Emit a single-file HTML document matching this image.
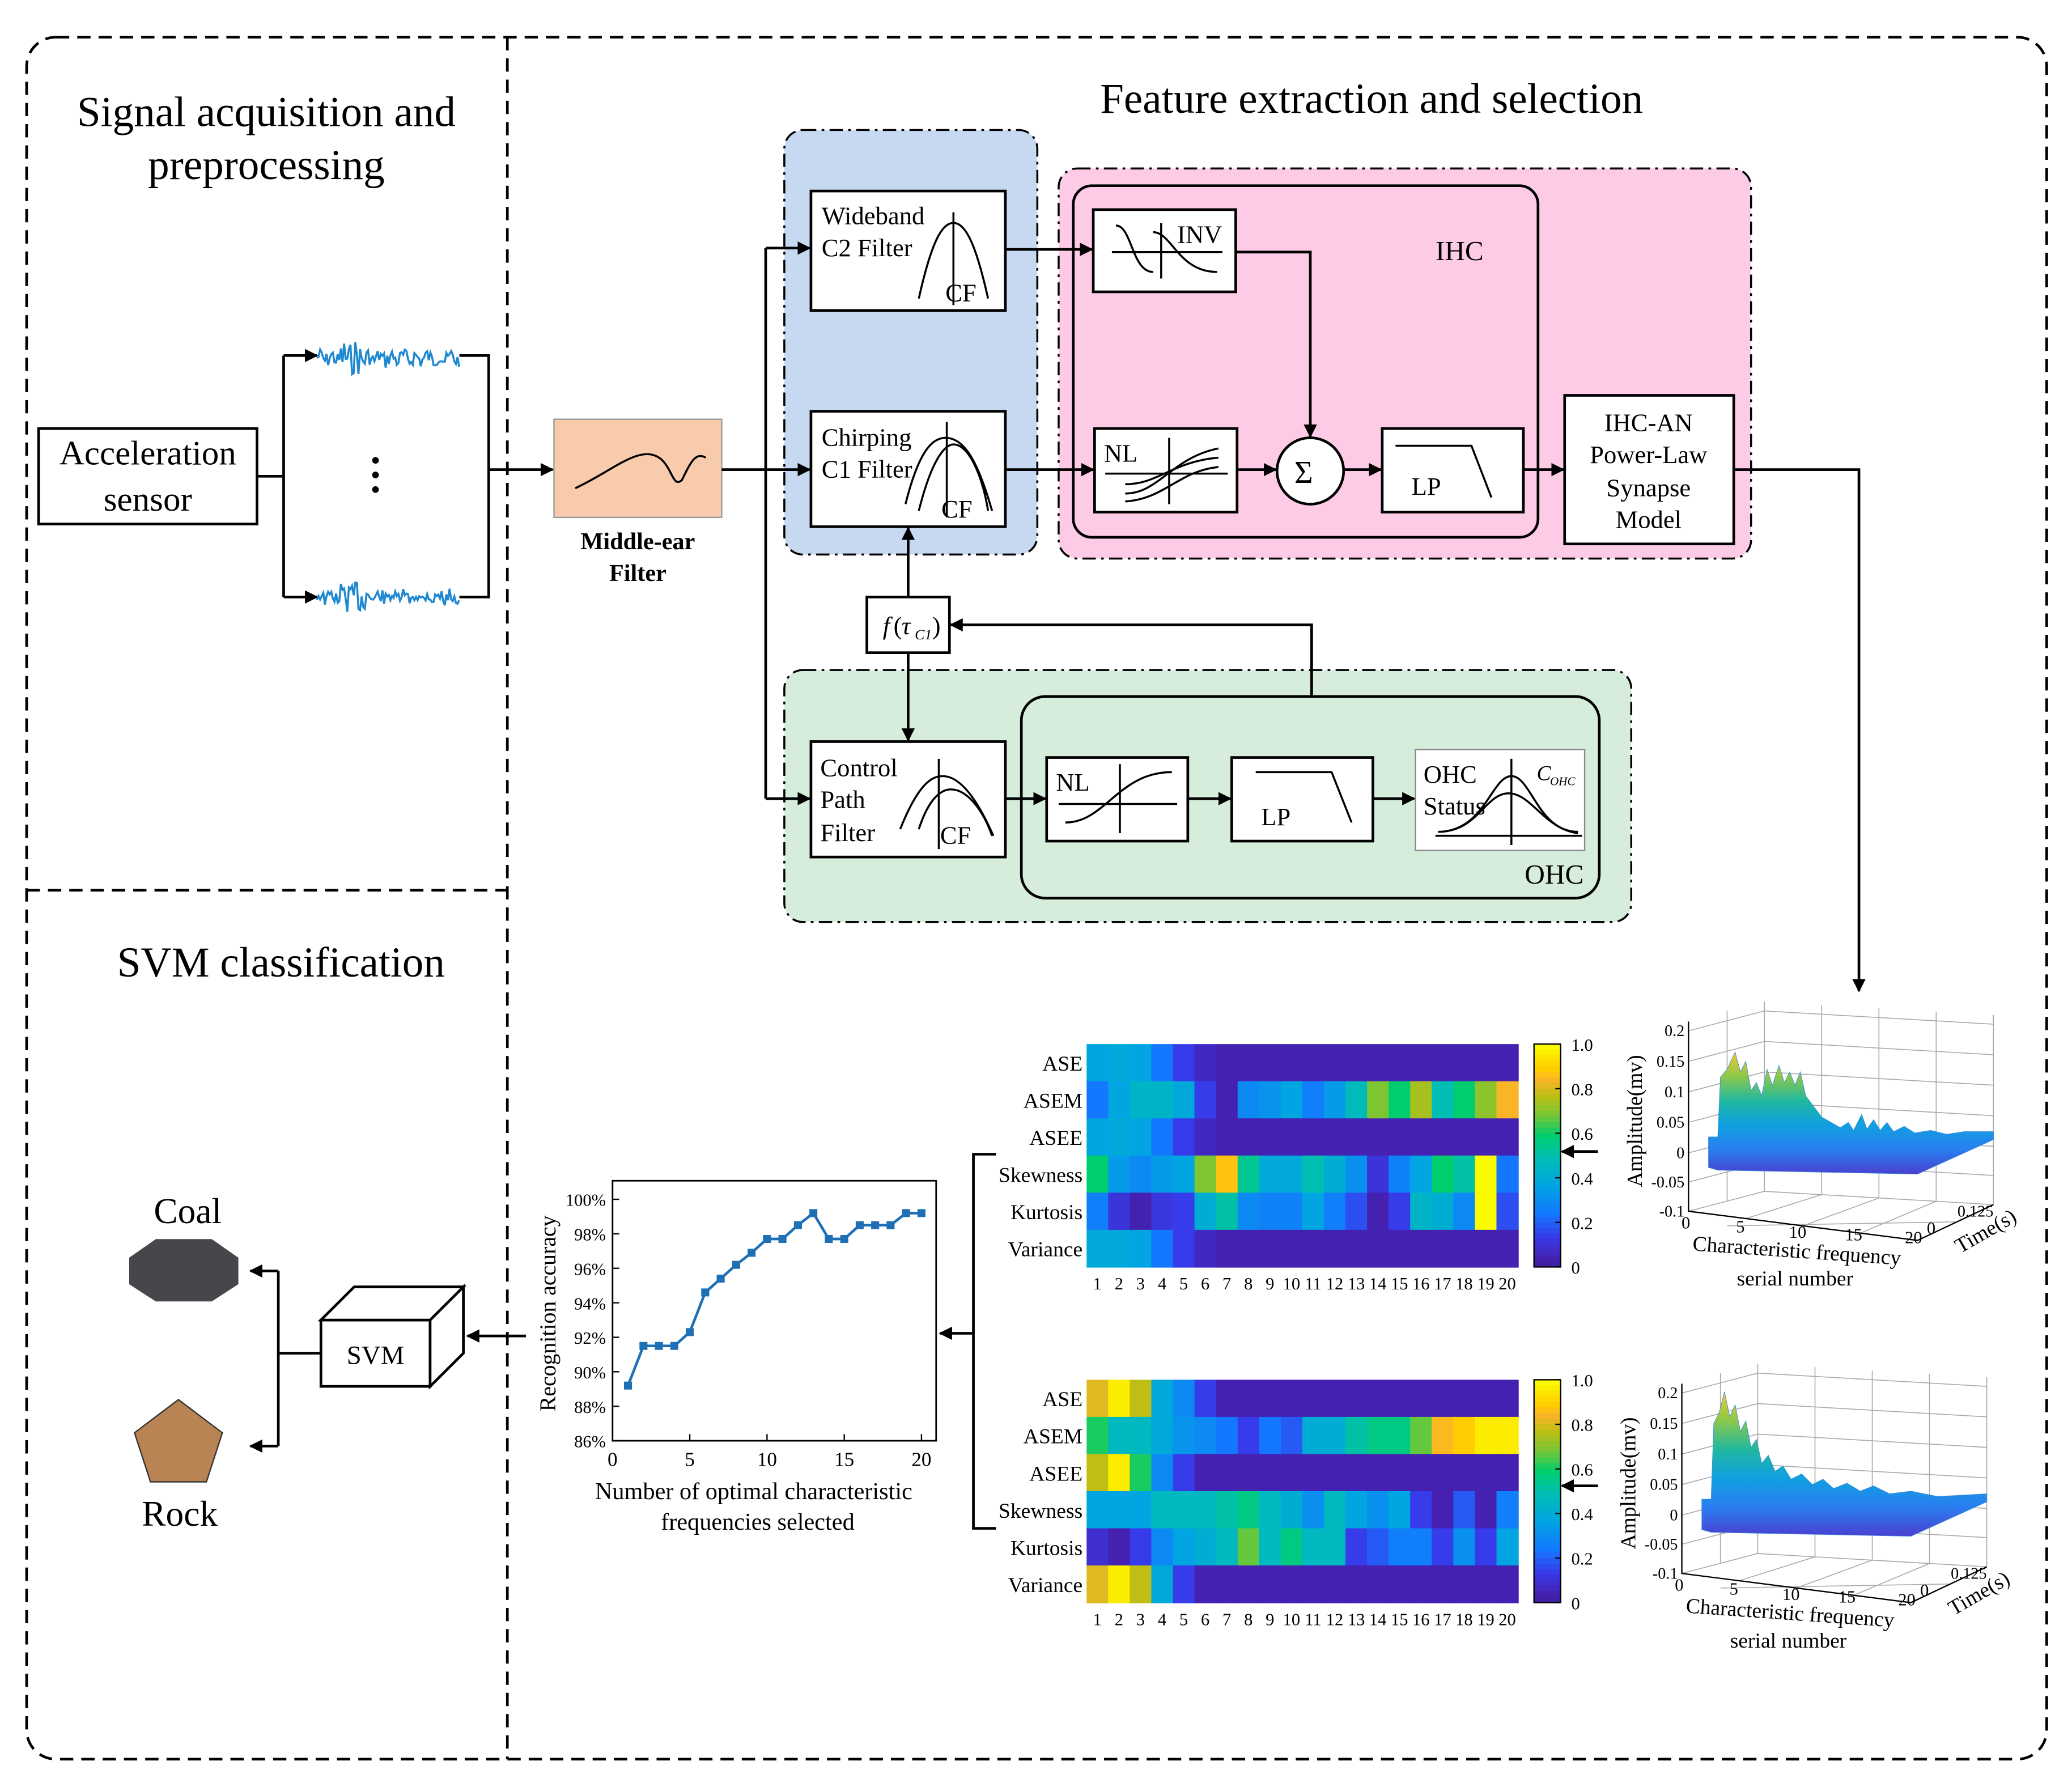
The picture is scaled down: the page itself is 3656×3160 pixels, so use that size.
<!DOCTYPE html>
<html><head><meta charset="utf-8"><style>
html,body{margin:0;padding:0;background:#fff;}
svg{display:block;font-family:"Liberation Serif",serif;}
</style></head><body>
<svg id="s" width="3656" height="3160" viewBox="0 0 1556 1350" preserveAspectRatio="none" xmlns="http://www.w3.org/2000/svg">
<defs>
<marker id="a" markerWidth="10" markerHeight="10" refX="9" refY="5" orient="auto" markerUnits="userSpaceOnUse"><path d="M0,0 L10,5 L0,10 z" fill="#000"/></marker>
<linearGradient id="sg" x1="0" y1="0" x2="0" y2="1"><stop offset="0" stop-color="#f5c82a"/><stop offset="0.2" stop-color="#8cc84a"/><stop offset="0.4" stop-color="#20b8a0"/><stop offset="0.6" stop-color="#10a0e0"/><stop offset="0.8" stop-color="#2a7ef0"/><stop offset="1" stop-color="#4a3fd0"/></linearGradient>
</defs>
<rect width="1556" height="1350" fill="#fff"/>
<rect x="20" y="28" width="1517" height="1298" rx="22" fill="none" stroke="#000" stroke-width="2" stroke-dasharray="10,6"/>
<line x1="381" y1="28" x2="381" y2="1326" stroke="#000" stroke-width="2" stroke-dasharray="10,6"/>
<line x1="20" y1="671" x2="381" y2="671" stroke="#000" stroke-width="2" stroke-dasharray="10,6"/>
<g font-size="32" text-anchor="middle">
<text x="200" y="95">Signal acquisition and</text>
<text x="200" y="135">preprocessing</text>
<text x="1030" y="85">Feature extraction and selection</text>
<text x="211" y="736">SVM classification</text>
</g>
<rect x="29" y="323" width="164" height="72" fill="#fff" stroke="#000" stroke-width="2"/>
<text x="111" y="350" font-size="26" text-anchor="middle">Acceleration</text>
<text x="111" y="385" font-size="26" text-anchor="middle">sensor</text>
<g stroke="#000" stroke-width="2" fill="none">
<path d="M193,359 H213 M213,268 V450"/>
<path d="M213,268 H238" marker-end="url(#a)"/>
<path d="M213,450 H238" marker-end="url(#a)"/>
<path d="M345,268 H367 V450 H345"/>
<path d="M367,354 H415" marker-end="url(#a)"/>
</g>
<g fill="#000"><circle cx="282" cy="347" r="2.5"/><circle cx="282" cy="358" r="2.5"/><circle cx="282" cy="369" r="2.5"/></g>
<polyline id="w1" fill="none" stroke="#1e88d0" stroke-width="1.5"/>
<polyline id="w2" fill="none" stroke="#1e88d0" stroke-width="1.5"/>
<rect x="416" y="316" width="126" height="74" fill="#f9cbad" stroke="#999" stroke-width="1"/>
<path d="M432,368 C460,355 480,335 495,345 C505,352 505,368 512,362 C518,350 522,340 530,345" fill="none" stroke="#000" stroke-width="1.5"/>
<text x="479" y="414" font-size="18" font-weight="bold" text-anchor="middle">Middle-ear</text>
<text x="479" y="438" font-size="18" font-weight="bold" text-anchor="middle">Filter</text>
<rect x="589" y="98" width="190" height="320" rx="14" fill="#c6d9f0" stroke="#000" stroke-width="1.5" stroke-dasharray="10,4,2,4"/>
<rect x="795" y="127" width="520" height="294" rx="14" fill="#fdcbe6" stroke="#000" stroke-width="1.5" stroke-dasharray="10,4,2,4"/>
<rect x="589" y="505" width="636" height="190" rx="14" fill="#d6eddc" stroke="#000" stroke-width="1.5" stroke-dasharray="10,4,2,4"/>
<rect x="806" y="140" width="349" height="265" rx="14" fill="none" stroke="#000" stroke-width="2"/>
<rect x="767" y="525" width="434" height="152" rx="18" fill="none" stroke="#000" stroke-width="2"/>
<g stroke="#000" stroke-width="2" fill="#fff">
<rect x="609" y="144" width="146" height="90"/>
<rect x="609" y="310" width="146" height="87"/>
<rect x="821" y="158" width="107" height="62"/>
<rect x="822" y="323" width="107" height="63"/>
<circle cx="984" cy="355" r="25"/>
<rect x="1038" y="323" width="106" height="63"/>
<rect x="1175" y="298" width="127" height="112"/>
<rect x="651" y="450" width="62" height="42"/>
<rect x="609" y="559" width="146" height="87"/>
<rect x="786" y="571" width="106" height="63"/>
<rect x="925" y="571" width="106" height="63"/>
</g>
<rect x="1063" y="565" width="127" height="76" fill="#fff" stroke="#888" stroke-width="1"/>
<g font-size="19">
<text x="617" y="169">Wideband</text><text x="617" y="193">C2 Filter</text><text x="710" y="227">CF</text>
<text x="617" y="336">Chirping</text><text x="617" y="360">C1 Filter</text><text x="707" y="390">CF</text>
<text x="884" y="183">INV</text><text x="1078" y="196" font-size="21">IHC</text>
<text x="829" y="348">NL</text><text x="1060" y="373">LP</text>
<text x="972" y="364" font-size="24">Σ</text>
<text x="1238" y="325" text-anchor="middle">IHC-AN</text><text x="1238" y="349" text-anchor="middle">Power-Law</text><text x="1238" y="374" text-anchor="middle">Synapse</text><text x="1238" y="398" text-anchor="middle">Model</text>
<text x="663" y="478" font-style="italic">f</text><text x="671" y="478">(</text><text x="677" y="478" font-style="italic">τ</text><text x="687" y="482" font-size="11" font-style="italic">C1</text><text x="700" y="478">)</text>
<text x="616" y="585">Control</text><text x="616" y="609">Path</text><text x="616" y="634">Filter</text><text x="706" y="636">CF</text>
<text x="793" y="596">NL</text><text x="947" y="622">LP</text>
<text x="1069" y="590">OHC</text><text x="1069" y="614">Status</text>
<text x="1154" y="588" font-style="italic" font-size="16">C</text><text x="1164" y="592" font-style="italic" font-size="9">OHC</text>
<text x="1145" y="666" font-size="21">OHC</text>
</g>
<g fill="none" stroke="#000" stroke-width="1.5">
<path d="M690,225 C700,180 708,168 716,168 C724,168 732,180 742,225 M716,160 V230"/>
<path d="M680,380 C690,340 700,330 710,330 C725,330 735,350 745,385 M690,385 C700,345 710,335 716,335 C728,335 738,360 742,385 M711,318 V390"/>
<path d="M676,625 C690,590 700,585 708,585 C722,585 735,605 746,630 M690,625 C698,600 708,595 714,595 C726,595 738,610 745,630 M705,572 V640"/>
<path d="M838,170 C850,170 850,205 866,205 M835,190 H918 M872,168 V210 M866,175 C880,175 885,205 914,205"/>
<path d="M845,372 C870,372 880,345 915,338 M845,365 C870,365 880,348 915,345 M845,378 C875,376 885,355 915,352 M830,357 H922 M878,330 V380"/>
<path d="M1048,336 H1105 L1120,375"/>
<path d="M800,620 C830,620 840,582 880,582 M795,606 H884 M841,576 V628"/>
<path d="M943,582 H1000 L1015,620"/>
<path d="M1080,627 C1115,627 1120,585 1135,585 C1150,585 1155,627 1185,627 M1080,627 C1110,627 1115,598 1133,598 C1150,598 1160,625 1185,628 M1078,630 H1188 M1135,572 V637"/>
</g>
<g stroke="#000" stroke-width="2" fill="none">
<path d="M542,354 H575 M575,187 V602"/>
<path d="M575,187 H608" marker-end="url(#a)"/>
<path d="M575,354 H608" marker-end="url(#a)"/>
<path d="M575,602 H608" marker-end="url(#a)"/>
<path d="M755,188 H820" marker-end="url(#a)"/>
<path d="M928,190 H984 V329" marker-end="url(#a)"/>
<path d="M755,354 H821" marker-end="url(#a)"/>
<path d="M929,354 H958" marker-end="url(#a)"/>
<path d="M1009,354 H1037" marker-end="url(#a)"/>
<path d="M1144,354 H1174" marker-end="url(#a)"/>
<path d="M1302,354 H1396 V747" marker-end="url(#a)"/>
<path d="M682,450 V398" marker-end="url(#a)"/>
<path d="M682,492 V558" marker-end="url(#a)"/>
<path d="M985,525 V471 H714" marker-end="url(#a)"/>
<path d="M755,602 H785" marker-end="url(#a)"/>
<path d="M892,602 H924" marker-end="url(#a)"/>
<path d="M1031,602 H1062" marker-end="url(#a)"/>
<path d="M1200,868 H1173" marker-end="url(#a)"/>
<path d="M1200,1120 H1173" marker-end="url(#a)"/>
<path d="M748,870 H731 V1152 H748"/>
<path d="M731,1005 H706" marker-end="url(#a)"/>
<path d="M395,1007 H351" marker-end="url(#a)"/>
<path d="M241,1020 H209 V958 M209,1020 V1090"/>
<path d="M209,958 H188" marker-end="url(#a)"/>
<path d="M209,1090 H188" marker-end="url(#a)"/>
</g>
<g id="hm"></g>
<g id="lc"></g>
<g stroke="#000" stroke-width="2" fill="#fff">
<rect x="241" y="995" width="82" height="50"/>
<path d="M241,995 L266,970 H348 L323,995 Z M323,995 L348,970 V1020 L323,1045 Z"/>
</g>
<text x="282" y="1028" font-size="20" text-anchor="middle">SVM</text>
<polygon points="117,934 159,934 179,948 179,968 159,981 117,981 97,968 97,948" fill="#47464b"/>
<text x="141" y="922" font-size="27" text-anchor="middle">Coal</text>
<polygon points="134,1055 167,1080 155,1117 113,1117 101,1080" fill="#b98453" stroke="#333" stroke-width="1"/>
<text x="135" y="1150" font-size="27" text-anchor="middle">Rock</text>
<g id="p3"></g>
</svg>
<script>
var NS="http://www.w3.org/2000/svg";
function el(p,t,a,txt){var e=document.createElementNS(NS,t);for(var k in a)e.setAttribute(k,a[k]);if(txt!=null)e.textContent=txt;p.appendChild(e);return e;}
function wave(id,y0,amp,seed){var p=[],r=seed;for(var x=238;x<=345;x+=1.2){r=(r*9301+49297)%233280;var n=(r/233280-0.5);var env=(x>255&&x<275)?2.2:1;p.push(x.toFixed(1)+','+(y0+n*amp*env+Math.sin(x*0.7)*2).toFixed(1));}document.getElementById(id).setAttribute('points',p.join(' '));}
wave('w1',270,12,7);wave('w2',450,10,13);
var st=[[0,[62,30,160]],[0.05,[68,33,176]],[0.15,[55,60,235]],[0.25,[20,120,255]],[0.38,[0,165,225]],[0.5,[0,190,180]],[0.6,[0,205,110]],[0.7,[125,198,50]],[0.78,[190,190,20]],[0.85,[250,180,40]],[0.9,[255,205,0]],[1,[250,250,0]]];
function col(v){v=Math.max(0,Math.min(1,v));for(var i=1;i<st.length;i++)if(v<=st[i][0]){var a=st[i-1],b=st[i],t=(v-a[0])/(b[0]-a[0]);return 'rgb('+a[1].map(function(c,j){return Math.round(c+(b[1][j]-c)*t)}).join(',')+')';}}
var hm=document.getElementById('hm');
var rows=['ASE','ASEM','ASEE','Skewness','Kurtosis','Variance'];
var D1=[
[.38,.4,.38,.25,.15,.08,.05,.05,.05,.05,.05,.05,.05,.05,.05,.05,.05,.05,.05,.05],
[.25,.38,.45,.45,.4,.15,.05,.3,.33,.38,.27,.35,.48,.7,.6,.75,.5,.6,.72,.85],
[.38,.4,.38,.25,.15,.08,.05,.05,.05,.05,.05,.05,.05,.05,.05,.05,.05,.05,.05,.05],
[.6,.35,.3,.35,.38,.7,.88,.55,.4,.4,.5,.42,.32,.12,.28,.38,.6,.52,1,.25],
[.27,.12,.05,.13,.15,.42,.52,.3,.28,.28,.38,.27,.18,.05,.15,.45,.42,.3,1,.18],
[.4,.4,.38,.25,.15,.08,.05,.05,.05,.05,.05,.05,.05,.05,.05,.05,.05,.05,.05,.05]];
var D2=[
[.82,.97,.78,.4,.3,.15,.05,.05,.05,.05,.05,.05,.05,.05,.05,.05,.05,.05,.05,.05],
[.62,.47,.47,.4,.33,.3,.25,.15,.25,.2,.42,.42,.52,.57,.57,.68,.86,.9,.97,.97],
[.78,.97,.62,.3,.15,.05,.05,.05,.05,.05,.05,.05,.05,.05,.05,.05,.05,.05,.05,.05],
[.38,.38,.38,.47,.47,.47,.52,.57,.47,.42,.32,.47,.38,.32,.38,.15,.05,.2,.05,.27],
[.1,.05,.15,.3,.38,.42,.47,.68,.47,.57,.47,.47,.15,.2,.27,.27,.15,.32,.15,.38],
[.82,.97,.78,.4,.15,.05,.05,.05,.05,.05,.05,.05,.05,.05,.05,.05,.05,.05,.05,.05]];
function heat(D,y0){var cw=16.2,ch=28;for(var r=0;r<6;r++){for(var c=0;c<20;c++)el(hm,'rect',{x:816+c*cw,y:y0+r*ch,width:cw+0.5,height:ch+0.5,fill:col(D[r][c])});el(hm,'text',{x:813,y:y0+r*ch+20,'font-size':16,'text-anchor':'end'},rows[r]);}
for(var c=0;c<20;c++)el(hm,'text',{x:816+c*cw+cw/2,y:y0+ch*6+17,'font-size':13,'text-anchor':'middle'},c+1);
for(var i=0;i<40;i++)el(hm,'rect',{x:1152,y:y0+i*4.2,width:20,height:4.4,fill:col(1-i/40)});
el(hm,'rect',{x:1152,y:y0,width:20,height:168,fill:'none',stroke:'#000','stroke-width':1});
['1.0','0.8','0.6','0.4','0.2','0'].forEach(function(t,i){el(hm,'text',{x:1180,y:y0+i*33.6+5,'font-size':13},t);el(hm,'line',{x1:1168,x2:1172,y1:y0+i*33.6,y2:y0+i*33.6,stroke:'#000'});});}
heat(D1,787);heat(D2,1040);
var lc=document.getElementById('lc');
el(lc,'rect',{x:460,y:890,width:243,height:196,fill:'none',stroke:'#000','stroke-width':1.2});
for(var i=0;i<8;i++){var y=1086-i*26;el(lc,'text',{x:455,y:y+5,'font-size':13,'text-anchor':'end'},(86+2*i)+'%');el(lc,'line',{x1:460,x2:465,y1:y,y2:y,stroke:'#000'});}
for(var i=0;i<5;i++){var x=460+i*58;el(lc,'text',{x:x,y:1105,'font-size':15,'text-anchor':'middle'},i*5);el(lc,'line',{x1:x,x2:x,y1:1086,y2:1081,stroke:'#000'});}
var acc=[89.2,91.5,91.5,91.5,92.3,94.6,95.4,96.2,96.9,97.7,97.7,98.5,99.2,97.7,97.7,98.5,98.5,98.5,99.2,99.2];
var pts=acc.map(function(v,i){return (460+(i+1)*11.6)+','+(1086-(v-86)*13)});
el(lc,'polyline',{points:pts.join(' '),fill:'none',stroke:'#1f6fb5','stroke-width':2});
pts.forEach(function(p){var q=p.split(',');el(lc,'rect',{x:q[0]-3,y:q[1]-3,width:6,height:6,fill:'#1f6fb5'});});
el(lc,'text',{x:0,y:0,'font-size':17,'text-anchor':'middle',transform:'translate(417,990) rotate(-90)'},'Recognition accuracy');
el(lc,'text',{x:566,y:1130,'font-size':18,'text-anchor':'middle'},'Number of optimal characteristic');
el(lc,'text',{x:569,y:1153,'font-size':18,'text-anchor':'middle'},'frequencies selected');
var p3=document.getElementById('p3');
var S1="1283,880 1283,857 1290,857 1292,812 1297,806 1303,793 1307,808 1311,800 1315,822 1319,816 1323,826 1327,806 1331,818 1336,803 1340,816 1344,808 1348,818 1352,808 1356,826 1362,834 1368,842 1375,846 1382,850 1388,846 1392,852 1398,840 1402,851 1407,844 1412,852 1417,846 1422,853 1430,849 1438,854 1450,852 1462,855 1475,853 1497,853 1497,859 1440,885 1290,882";
var S2="1283,880 1283,857 1290,857 1292,800 1296,792 1300,776 1304,795 1308,786 1312,806 1316,798 1320,818 1324,812 1328,830 1333,824 1338,836 1344,832 1350,842 1358,838 1366,846 1374,842 1382,849 1392,845 1402,851 1412,847 1424,853 1440,851 1460,855 1497,853 1497,859 1440,885 1290,882";
function plot3(dx,dy,surf){
var g=el(p3,'g',{transform:'translate('+dx+','+dy+')'});
var gl=el(g,'g',{stroke:'#aaa','stroke-width':0.7,fill:'none'});
[777,800,823,846,869,891,913].forEach(function(y){el(gl,'path',{d:'M1268,'+y+' L1325,'+(y-15)+' L1497,'+(y-5)});});
for(var i=0;i<5;i++){var x=1325+i*43;el(gl,'line',{x1:x,y1:755+i*2.5,x2:x,y2:898+i*2.5});}
el(gl,'line',{x1:1297,y1:762,x2:1297,y2:905});
for(var i=1;i<5;i++){el(gl,'line',{x1:1268+i*43,y1:913+i*5.5,x2:1325+i*43,y2:898+i*2.5});}
el(gl,'line',{x1:1297,y1:924,x2:1468,y2:921});
el(g,'path',{d:'M1268,770 V913 L1440,935 L1497,908',fill:'none',stroke:'#000','stroke-width':1});
el(g,'polygon',{points:surf,fill:'url(#sg)',stroke:'#3a8ee0','stroke-width':0.4});
[['0.2',777],['0.15',800],['0.1',823],['0.05',846],['0',869],['-0.05',891],['-0.1',913]].forEach(function(a){el(g,'text',{x:1265,y:a[1]+4,'font-size':12,'text-anchor':'end'},a[0]);});
[['0',1266,926],['5',1307,929],['10',1350,933],['15',1392,935],['20',1437,937]].forEach(function(a){el(g,'text',{x:a[1],y:a[2],'font-size':13,'text-anchor':'middle'},a[0]);});
el(g,'text',{x:1447,y:930,'font-size':13},'0');
el(g,'text',{x:1470,y:917,'font-size':12},'0.125');
el(g,'text',{x:0,y:0,'font-size':16,transform:'translate(1472,945) rotate(-30)'},'Time(s)');
el(g,'text',{x:0,y:0,'font-size':16,'text-anchor':'middle',transform:'translate(1233,845) rotate(-90)'},'Amplitude(mv)');
el(g,'text',{x:1349,y:948,'font-size':16,'text-anchor':'middle',transform:'rotate(4 1349 948)'},'Characteristic frequency');
el(g,'text',{x:1348,y:969,'font-size':16,'text-anchor':'middle'},'serial number');
}
plot3(0,0,S1);plot3(-5,273,S2);
</script>
</body></html>
